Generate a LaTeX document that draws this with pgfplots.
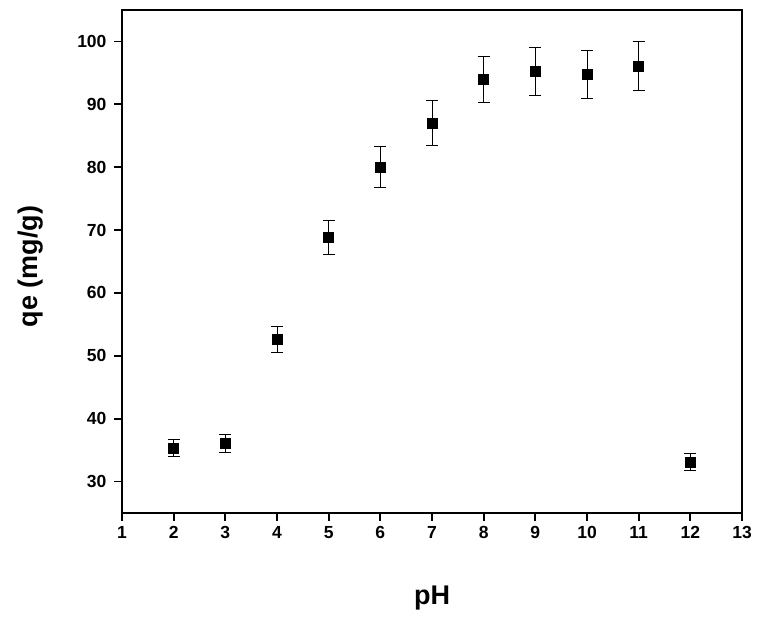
\documentclass[border=0pt]{standalone}
\usepackage{pgfplots}
\pgfplotsset{compat=1.18}
\usepackage{fontspec}
\setmainfont{Liberation Sans}
\begin{document}
\begin{tikzpicture}
\useasboundingbox (-122pt,-106pt) rectangle (640pt,513pt);
\begin{axis}[
  at={(0pt,0pt)}, anchor=south west,
  width=620pt, height=503pt, scale only axis,
  xmin=1, xmax=13, ymin=25, ymax=105,
  xtick={1,2,...,13}, ytick={30,40,...,100},
  axis line style={line width=1.8pt},
  major tick length=0pt,
  xtick pos=bottom, ytick pos=left,
  /pgf/number format/assume math mode=true,
  ticklabel style={font=\fontsize{17.5}{20}\selectfont\bfseries},
  xticklabel style={yshift=-10pt},
  yticklabel style={xshift=-12pt},
  xlabel={pH}, ylabel={qe (mg/g)},
  xlabel style={font=\fontsize{27}{30}\selectfont\bfseries, at={(axis description cs:0.5,-0.169)}, anchor=center},
  ylabel style={font=\fontsize{27}{30}\selectfont\bfseries, at={(axis description cs:-0.148,0.49)}, anchor=center},
  clip=false,
]
\pgfplotsinvokeforeach{1,2,...,13}{\draw[black, line width=1.8pt] (axis cs:#1,25) -- ++(0pt,-8pt);}
\pgfplotsinvokeforeach{30,40,...,100}{\draw[black, line width=1.8pt] (axis cs:1,#1) -- ++(-8pt,0pt);}
\addplot[only marks, mark=square*, mark size=5pt, black,
  error bars/.cd, y dir=both, y explicit,
  error bar style={line width=0.6pt, black},
  error mark options={rotate=90, mark size=6pt, line width=0.6pt}]
  coordinates {
  (2,35.3) +- (0,1.35)
  (3,36.1) +- (0,1.4)
  (4,52.6) +- (0,2.05)
  (5,68.85) +- (0,2.7)
  (6,80.05) +- (0,3.2)
  (7,87.06) +- (0,3.55)
  (8,94.0) +- (0,3.7)
  (9,95.25) +- (0,3.75)
  (10,94.8) +- (0,3.85)
  (11,96.1) +- (0,3.9)
  (12,33.1) +- (0,1.35)
  };
\end{axis}
\end{tikzpicture}
\end{document}
